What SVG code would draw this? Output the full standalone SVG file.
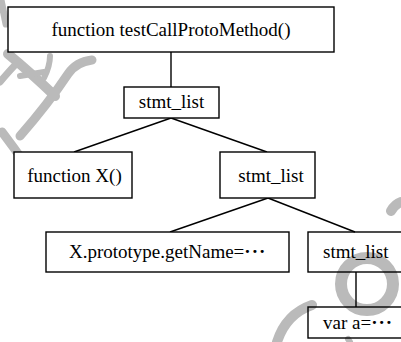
<svg xmlns="http://www.w3.org/2000/svg" width="401" height="342" viewBox="0 0 401 342">
<style>
.wm{fill:none;stroke:#bababa;stroke-linecap:round;stroke-linejoin:round}
.box{stroke:#000;stroke-width:1.4}
.solid{fill:#fff}
.open{fill:none}
.edge{stroke:#000;stroke-width:1.4;fill:none}
.dots{font-weight:bold;letter-spacing:1px}
</style>
<rect x="0" y="0" width="401" height="342" fill="#fff"/>
<g id="watermark">
<path class="wm" stroke-width="7" d="M1,0 L6,24"/>
<path class="wm" stroke-width="10" d="M8,54 Q30,72 55,96"/>
<path class="wm" stroke-width="7" d="M0,82 Q10,70 18,62"/>
<path class="wm" stroke-width="6" d="M20,76 L44,72"/>
<path class="wm" stroke-width="6" d="M44,78 Q50,66 50,56"/>
<path class="wm" stroke-width="9" d="M92,60 Q76,62 68,74 Q48,104 20,136"/>
<path class="wm" stroke-width="9" d="M2,132 Q14,148 24,162"/>
<path class="wm" stroke-width="10" d="M391,211 Q395,204 401,202"/>
<circle class="wm" stroke-width="12" cx="367" cy="284" r="26"/>
<path class="wm" stroke-width="10" d="M277,342 Q286,314 312,305"/>
<path class="wm" stroke-width="6" d="M348,339 L350,342"/>
</g>
<g id="connectors">
<line class="edge" x1="171" y1="52" x2="171" y2="87"/>
<line class="edge" x1="171" y1="118" x2="74" y2="152"/>
<line class="edge" x1="171" y1="118" x2="267" y2="152"/>
<line class="edge" x1="268" y1="198" x2="170" y2="232"/>
<line class="edge" x1="268" y1="198" x2="355" y2="232"/>
<line class="edge" x1="356" y1="272" x2="356" y2="307"/>
</g>
<g id="nodes" font-family="Liberation Serif, Times New Roman, serif" font-size="19" fill="#000">
<g id="n_root">
<rect class="box solid" x="8" y="7" width="326" height="45"/>
<text x="171" y="36" text-anchor="middle">function testCallProtoMethod()</text>
</g>
<g id="n_list1">
<rect class="box solid" x="124" y="87" width="95" height="31"/>
<text x="171.5" y="108" text-anchor="middle">stmt_list</text>
</g>
<g id="n_funcX">
<rect class="box solid" x="14" y="152" width="118" height="46"/>
<text x="74.5" y="182" text-anchor="middle">function X()</text>
</g>
<g id="n_list2">
<rect class="box solid" x="220" y="152" width="95" height="46"/>
<text x="271" y="182" text-anchor="middle">stmt_list</text>
</g>
<g id="n_proto">
<rect class="box solid" x="46" y="232" width="243" height="40"/>
<text x="69" y="258">X.prototype.getName=<tspan class="dots">···</tspan></text>
</g>
<g id="n_list3">
<rect class="box open" x="308" y="232" width="96" height="40"/>
<text x="323" y="258">stmt_list</text>
</g>
<g id="n_vara">
<rect class="box open" x="308" y="307" width="96" height="31"/>
<text x="323" y="329">var a=<tspan class="dots">···</tspan></text>
</g>
</g>
</svg>
